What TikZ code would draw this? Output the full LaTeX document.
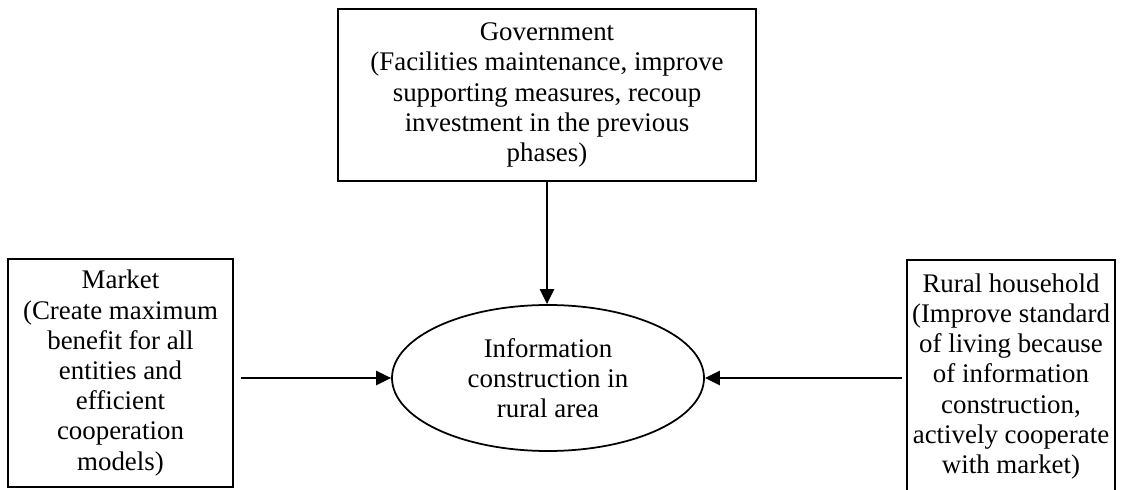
\documentclass[tikz,border=0pt]{standalone}
\usepackage{fontspec}
\setmainfont{Liberation Serif}
\usetikzlibrary{arrows.meta,shapes.geometric}

\begin{document}
\begin{tikzpicture}[font=\fontsize{15.3}{17.2}\selectfont,
box/.style={draw, line width=1pt, align=center, inner sep=0pt},
arr/.style={line width=1.3pt, -{Triangle[length=8.5pt,width=8pt]}}]
\clip (0,0) rectangle (22.42,9.78);
\useasboundingbox (0,0) rectangle (22.42,9.78);

\node[box, minimum width=8.36cm, minimum height=3.44cm] (gov) at (10.94,7.88)
  {Government\\(Facilities maintenance, improve\\supporting measures, recoup\\investment in the previous\\phases)};
\node[draw, ellipse, line width=1pt, align=center, minimum width=6.24cm, minimum height=2.92cm, inner sep=0pt] (info) at (10.96,2.22)
  {Information\\construction in\\rural area};
\node[box, minimum width=4.5cm, minimum height=4.56cm] (market) at (2.41,2.32)
  {Market\\(Create maximum\\benefit for all\\entities and\\efficient\\cooperation\\models)};
\node[box, minimum width=4.16cm, minimum height=4.66cm] (rural) at (20.22,2.25)
  {Rural household\\(Improve standard\\of living because\\of information\\construction,\\actively cooperate\\with market)};

\draw[arr] (gov.south) -- (gov.south |- info.north);
\draw[arr] ([xshift=0.14cm]market.east |- info.west) -- (info.west);
\draw[arr] ([xshift=-0.08cm]rural.west |- info.east) -- (info.east);

\end{tikzpicture}
\end{document}
